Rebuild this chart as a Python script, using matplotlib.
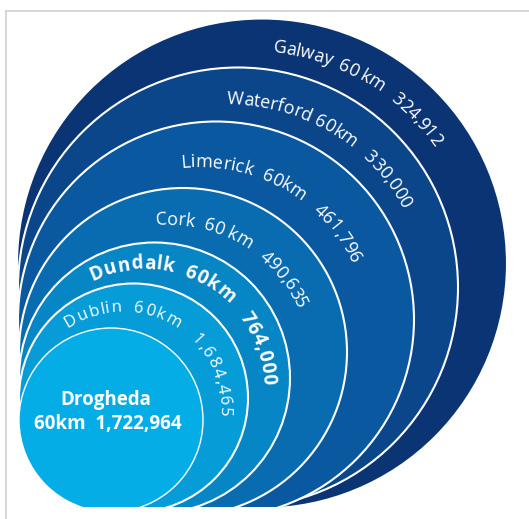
import numpy as np
import matplotlib.pyplot as plt
from matplotlib.patches import Circle, Rectangle
from matplotlib.font_manager import FontProperties, findfont, get_font

W, H = 529, 519

cities = ["Galway", "Waterford", "Limerick", "Cork", "Dundalk", "Dublin", "Drogheda"]
distances = ["60 km", "60km", "60km", "60 km", "60km", "60km", "60km"]
populations = ["324,912", "330,000", "461,796", "490,635", "764,000", "1,684,465", "1,722,964"]
colors = ["#0a3474", "#0a4689", "#0a589f", "#096cb1", "#0786c5", "#069cd8", "#05ade7"]

# circles in pixels (centre x, centre y from top, radius)
circ_x = [262, 238, 216, 183, 154.5, 133.5, 111]
circ_y = [263.5, 287.5, 319.5, 352, 378, 398, 420]
circ_r = [245, 220, 198, 164, 135.5, 114.5, 92]

# curved labels: radius of text middle, start / end angle in degrees
lab_r = [231, 205.7, 175, 146.7, 125.8, 103.5]
lab_a0 = [84.1, 90.1, 96.1, 95.4, 115.95, 124.4]
lab_a1 = [35.0, 28.3, 25.2, 23.3, 1.5, -5.0]
lab_size = [13, 13, 13, 13, 13.5, 12]
lab_bold = [False, False, False, False, True, False]
sep1 = ["  ", " ", "  ", "  ", "  ", "  "]
sep2 = ["   ", "   ", "   ", "   ", "   ", "   "]

FONT = "Open Sans"


def advances(s, prop):
    font = get_font(findfont(prop))
    font.set_size(prop.get_size_in_points(), 100)
    return np.array([font.load_char(ord(c)).horiAdvance / 64.0 for c in s])


fig = plt.figure(figsize=(W / 100, H / 100), dpi=100)
ax = fig.add_axes([0, 0, 1, 1])
ax.set_xlim(0, W)
ax.set_ylim(0, H)
ax.axis("off")

# light frame
ax.plot([5, W], [H - 10.5, H - 10.5], color="#cfcfcf", lw=1.2, solid_capstyle="butt")
ax.plot([5.5, 5.5], [0, H - 10.5], color="#cfcfcf", lw=1.2, solid_capstyle="butt")

clip = Rectangle((0, 12), W, H, transform=ax.transData)
for i in range(len(cities)):
    c = Circle((circ_x[i], H - circ_y[i]), circ_r[i], facecolor=colors[i],
               edgecolor="white", lw=1.5 if i < 6 else 1.0)
    ax.add_patch(c)
    c.set_clip_path(clip)

for i in range(6):
    txt = cities[i] + sep1[i] + distances[i] + sep2[i] + populations[i]
    prop = FontProperties(family=FONT, size=lab_size[i],
                          weight="bold" if lab_bold[i] else "normal")
    cx = (circ_x[i] + circ_x[i + 1]) / 2
    cy = H - (circ_y[i] + circ_y[i + 1]) / 2
    R = lab_r[i]
    em = lab_size[i] * 100 / 72
    adv = advances(txt, prop)
    span = np.radians(lab_a0[i] - lab_a1[i]) * R
    extra = span - adv.sum()
    is_sp = np.array([ch == " " for ch in txt])
    if extra > 0:
        adv = adv + is_sp * extra / is_sp.sum()
    else:
        adv = adv * span / adv.sum()
    pos = np.cumsum(adv) - adv / 2
    rb = R - 0.36 * em
    for ch, p in zip(txt, pos):
        if ch == " ":
            continue
        th = np.radians(lab_a0[i]) - p / R
        ax.text(cx + rb * np.cos(th), cy + rb * np.sin(th), ch, fontproperties=prop,
                color="white", rotation=np.degrees(th) - 90, rotation_mode="anchor",
                ha="center", va="baseline")

ax.text(106, H - 400, cities[6], family=FONT, weight="bold", size=13.5,
        color="white", ha="center", va="center")
ax.text(107.5, H - 424, distances[6] + "  " + populations[6], family=FONT,
        weight="bold", size=13.5, color="white", ha="center", va="center")

fig.savefig("out.png", dpi=100)
